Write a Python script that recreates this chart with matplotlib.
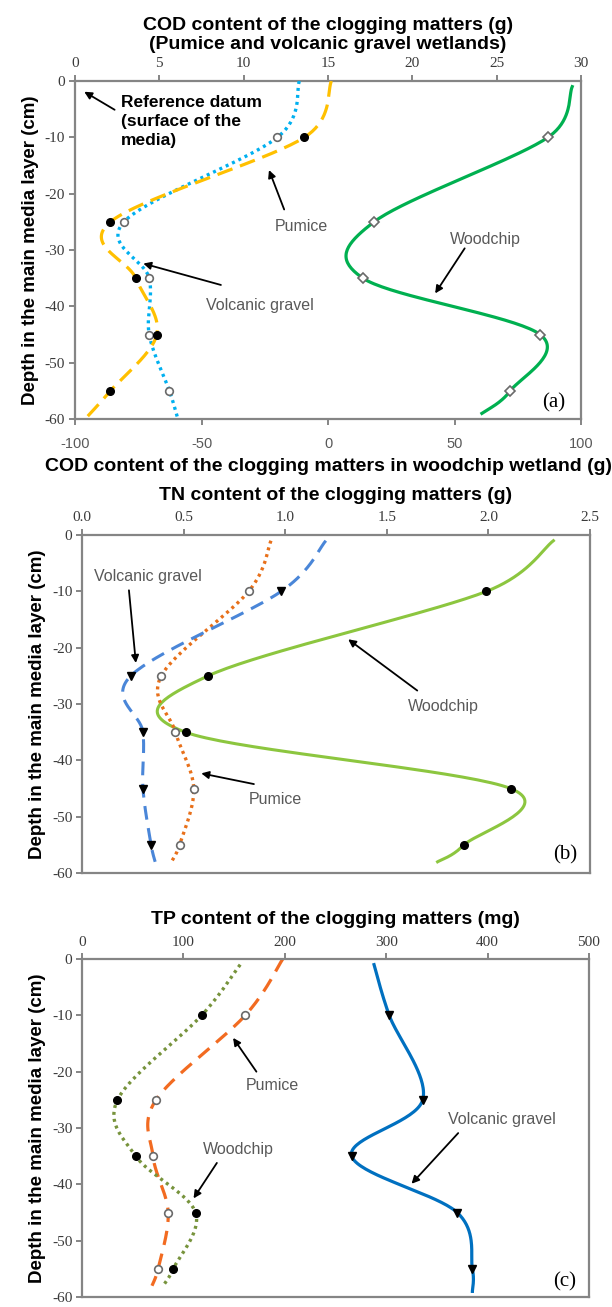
import numpy as np
import matplotlib
matplotlib.use("Agg")
import matplotlib.pyplot as plt

plt.rcParams['axes.unicode_minus'] = False
plt.rcParams['font.family'] = ['Liberation Sans', 'DejaVu Sans']

# sampling depths (cm below the media surface)
depth = [-10, -25, -35, -45, -55]

# COD content of the clogging matters (g)
cod_pumice = [13.6, 2.1, 3.6, 4.85, 2.1]
cod_volcanic = [12.0, 2.9, 4.4, 4.4, 5.6]
cod_woodchip = [86.9, 18.2, 13.8, 83.8, 72.0]

# TN content (g)
tn_volcanic = [0.98, 0.24, 0.30, 0.30, 0.34]
tn_pumice = [0.82, 0.39, 0.46, 0.55, 0.48]
tn_woodchip = [1.99, 0.62, 0.51, 2.11, 1.88]

# TP content (mg)
tp_woodchip = [118, 35, 53, 112, 90]
tp_pumice = [161, 73, 70, 85, 75]
tp_volcanic = [303, 336, 266, 370, 385]

# where each smoothed line starts and stops: (depth, value)
cod_pumice_ends = [(0, 15.2), (-60, 0.6)]
cod_volcanic_ends = [(0, 13.3), (-60, 6.1)]
cod_woodchip_ends = [(-1, 96.5), (-59, 60.8)]
tn_volcanic_ends = [(-1, 1.20), (-58, 0.36)]
tn_pumice_ends = [(-1, 0.93), (-58, 0.44)]
tn_woodchip_ends = [(-1, 2.32), (-58, 1.75)]
tp_woodchip_ends = [(-1, 156), (-58, 80)]
tp_pumice_ends = [(0, 198), (-58, 69)]
tp_volcanic_ends = [(-1, 288), (-59, 385)]

SPINE = '#858585'
LABEL = '#595959'
TICKC = '#3a3a3a'


def smooth_line(ax, vals, ends, xlim, **kw):
    # spreadsheet-style smoothed line (Bezier segments with Catmull-Rom
    # control points), worked out in inch units so both axes weigh the same
    bb = ax.get_position()
    sx = bb.width * 6.12 / (xlim[1] - xlim[0])
    sy = bb.height * 13.07 / 60.0
    xs = [ends[0][1]] + list(vals) + [ends[1][1]]
    ys = [ends[0][0]] + list(depth) + [ends[1][0]]
    p = np.column_stack([np.array(xs) * sx, np.array(ys) * sy])
    n = len(p)
    m = np.zeros_like(p)
    for i in range(n):
        m[i] = (p[min(i + 1, n - 1)] - p[max(i - 1, 0)]) / 6.0
    t = np.linspace(0, 1, 40)[:, None]
    seg = []
    for i in range(n - 1):
        p1, p2 = p[i], p[i + 1]
        m1, m2 = m[i].copy(), m[i + 1].copy()
        if i == 0 or i == n - 2:
            # end pieces are short, so trim the long inner handle a little
            cap = 0.55 * np.hypot(*(p2 - p1))
            for v in (m1, m2):
                ln = np.hypot(*v)
                if ln > cap:
                    v *= cap / ln
        c1 = p1 + m1
        c2 = p2 - m2
        b = ((1 - t) ** 3) * p1 + 3 * ((1 - t) ** 2) * t * c1 \
            + 3 * (1 - t) * t ** 2 * c2 + t ** 3 * p2
        seg.append(b)
    c = np.vstack(seg)
    ax.plot(c[:, 0] / sx, c[:, 1] / sy, **kw)


def points(ax, vals, kind):
    if kind == 'dot':
        ax.plot(vals, depth, 'o', ms=5.5, mfc='black', mec='black', zorder=5)
    elif kind == 'ring':
        ax.plot(vals, depth, 'o', ms=5.5, mfc='white', mec='#6a6a6a', mew=1.2, zorder=5)
    elif kind == 'diamond':
        ax.plot(vals, depth, 'D', ms=5, mfc='white', mec='#6a6a6a', mew=1.2, zorder=5)
    elif kind == 'tri':
        ax.plot(vals, depth, 'v', ms=6, mfc='black', mec='black', zorder=5)


def style(ax):
    for s in ax.spines.values():
        s.set_color(SPINE)
        s.set_linewidth(1.6)
    ax.set_ylim(-60, 0)
    ax.set_yticks(range(-60, 1, 10))
    ax.tick_params(axis='y', direction='out', length=4, width=1.4, color=SPINE,
                   labelsize=11, labelcolor=TICKC, pad=3)
    for t in ax.get_yticklabels():
        t.set_family('Liberation Serif')
    ax.set_ylabel('Depth in the main media layer (cm)', fontsize=13.5,
                  fontweight='bold', labelpad=4)


def top_axis(ax, lim, step, fmt, title, pad, tpad):
    ax.set_xlim(*lim)
    ax.set_xticks(np.arange(lim[0], lim[1] + step / 2, step))
    ax.xaxis.set_major_formatter(matplotlib.ticker.FormatStrFormatter(fmt))
    ax.xaxis.set_label_position('top')
    ax.tick_params(axis='x', top=True, labeltop=True, bottom=False, labelbottom=False,
                   direction='out', length=4, width=1.4, color=SPINE,
                   labelsize=11, labelcolor=TICKC, pad=tpad)
    for t in ax.get_xticklabels():
        t.set_family('Liberation Serif')
    ax.set_xlabel(title, fontsize=14, fontweight='bold', labelpad=pad,
                  linespacing=1.15)


def note(ax, text, xy, xytext, txt_at):
    ax.annotate('', xy=xy, xytext=xytext,
                arrowprops=dict(arrowstyle='-|>', color='black', lw=1.3,
                                mutation_scale=11, shrinkA=0, shrinkB=0))
    ax.text(*txt_at, text, ha='center', va='center', fontsize=11.5, color=LABEL)


fig = plt.figure(figsize=(6.12, 13.07), dpi=100)

# ---------------- (a) COD ----------------
ax_a = fig.add_axes([0.1225, 0.6794, 0.827, 0.2586])
style(ax_a)
ax_a.set_xlim(-100, 100)
ax_a.set_xticks(range(-100, 101, 50))
ax_a.tick_params(axis='x', direction='out', length=4, width=1.4, color=SPINE,
                 labelsize=10.5, labelcolor=LABEL, pad=9)
ax_a.set_xlabel('COD content of the clogging matters in woodchip wetland (g)',
                fontsize=14, fontweight='bold', labelpad=5)
smooth_line(ax_a, cod_woodchip, cod_woodchip_ends, (-100, 100), color='#00b050', lw=2.3)
points(ax_a, cod_woodchip, 'diamond')

ax_a2 = ax_a.twiny()
for s in ax_a2.spines.values():
    s.set_visible(False)
top_axis(ax_a2, (0, 30), 5, '%d',
         'COD content of the clogging matters (g)\n(Pumice and volcanic gravel wetlands)', 6, 4)
smooth_line(ax_a2, cod_volcanic, cod_volcanic_ends, (0, 30),
            color='#00b0f0', lw=2.4, ls=(0, (0.9, 1.2)))
smooth_line(ax_a2, cod_pumice, cod_pumice_ends, (0, 30),
            color='#ffc000', lw=2.3, ls=(0, (5, 2.5)))
points(ax_a2, cod_volcanic, 'ring')
points(ax_a2, cod_pumice, 'dot')

ax_a2.annotate('', xy=(0.55, -1.9), xytext=(2.35, -5.1),
               arrowprops=dict(arrowstyle='-|>', color='black', lw=1.3,
                               mutation_scale=11, shrinkA=0, shrinkB=0))
ax_a2.text(2.75, -2.4, 'Reference datum\n(surface of the\nmedia)', ha='left', va='top',
           fontsize=12.5, fontweight='bold', linespacing=1.35)
note(ax_a2, 'Pumice', (11.5, -15.8), (12.4, -22.8), (13.4, -25.8))
note(ax_a2, 'Volcanic gravel', (4.05, -32.4), (8.65, -36.2), (10.95, -39.8))
note(ax_a2, 'Woodchip', (21.35, -37.7), (23.1, -29.7), (24.3, -28.1))
ax_a2.text(28.4, -57.2, '(a)', ha='center', va='center', fontsize=15,
           family='Liberation Serif')

# ---------------- (b) TN ----------------
ax_b = fig.add_axes([0.134, 0.332, 0.830, 0.2586])
style(ax_b)
top_axis(ax_b, (0, 2.5), 0.5, '%.1f', 'TN content of the clogging matters (g)', 8, 4)
smooth_line(ax_b, tn_woodchip, tn_woodchip_ends, (0, 2.5), color='#8cc63f', lw=2.2)
smooth_line(ax_b, tn_pumice, tn_pumice_ends, (0, 2.5),
            color='#e8701a', lw=2.4, ls=(0, (0.9, 1.2)))
smooth_line(ax_b, tn_volcanic, tn_volcanic_ends, (0, 2.5),
            color='#4a86d8', lw=2.2, ls=(0, (4.5, 2.8)))
points(ax_b, tn_woodchip, 'dot')
points(ax_b, tn_pumice, 'ring')
points(ax_b, tn_volcanic, 'tri')
note(ax_b, 'Volcanic gravel', (0.265, -22.7), (0.231, -9.8), (0.323, -7.4))
note(ax_b, 'Woodchip', (1.31, -18.5), (1.65, -27.6), (1.78, -30.5))
note(ax_b, 'Pumice', (0.587, -42.3), (0.846, -44.2), (0.95, -46.9))
ax_b.text(2.38, -56.8, '(b)', ha='center', va='center', fontsize=15,
          family='Liberation Serif')

# ---------------- (c) TP ----------------
ax_c = fig.add_axes([0.134, 0.00765, 0.8284, 0.2586])
style(ax_c)
top_axis(ax_c, (0, 500), 100, '%d', 'TP content of the clogging matters (mg)', 8, 3.5)
smooth_line(ax_c, tp_volcanic, tp_volcanic_ends, (0, 500), color='#0070c0', lw=2.3)
smooth_line(ax_c, tp_pumice, tp_pumice_ends, (0, 500),
            color='#f26b21', lw=2.3, ls=(0, (4.5, 2.8)))
smooth_line(ax_c, tp_woodchip, tp_woodchip_ends, (0, 500),
            color='#77933c', lw=2.4, ls=(0, (0.9, 1.2)))
points(ax_c, tp_woodchip, 'dot')
points(ax_c, tp_pumice, 'ring')
points(ax_c, tp_volcanic, 'tri')
note(ax_c, 'Pumice', (149, -14), (172, -20), (188, -22.4))
note(ax_c, 'Woodchip', (110, -42.5), (133, -36.2), (154, -33.8))
note(ax_c, 'Volcanic gravel', (325, -39.9), (371, -30.9), (414, -28.5))
ax_c.text(476, -57.4, '(c)', ha='center', va='center', fontsize=15,
          family='Liberation Serif')

fig.savefig('out.png', dpi=100)
